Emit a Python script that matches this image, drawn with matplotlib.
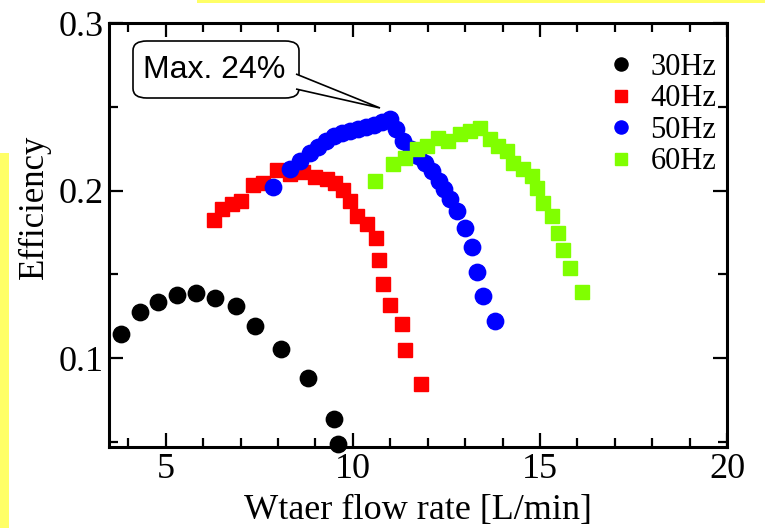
import matplotlib
matplotlib.use("Agg")
import matplotlib.pyplot as plt
from matplotlib.patches import FancyBboxPatch, Polygon, Rectangle
from matplotlib.ticker import MultipleLocator

# ---- data ----
x30 = [3.79, 4.30, 4.79, 5.30, 5.80, 6.31, 6.87, 7.38, 8.09, 8.80, 9.49, 9.61]
y30 = [0.1147, 0.1276, 0.1335, 0.1379, 0.1389, 0.1359, 0.1311, 0.1192, 0.1054, 0.0879, 0.0635, 0.0488]

x40 = [6.28, 6.49, 6.76, 7.02, 7.33, 7.60, 7.96, 8.32, 8.67, 8.98, 9.30, 9.52, 9.74, 9.92,
       10.10, 10.37, 10.61, 10.70, 10.81, 10.99, 11.30, 11.39, 11.81]
y40 = [0.1826, 0.1891, 0.1917, 0.1940, 0.2036, 0.2044, 0.2123, 0.2099, 0.2109, 0.2083, 0.2070,
       0.2044, 0.2004, 0.1940, 0.1851, 0.1798, 0.1718, 0.1587, 0.1444, 0.1315, 0.1206, 0.1048, 0.0845]

x50 = [7.86, 8.32, 8.58, 8.85, 9.06, 9.28, 9.49, 9.71, 9.92, 10.13, 10.35, 10.56, 10.78, 10.99,
       11.15, 11.34, 11.55, 11.74, 11.93, 12.11, 12.30, 12.43, 12.59, 12.78, 12.99, 13.18, 13.32,
       13.48, 13.80]
y50 = [0.2024, 0.2131, 0.2179, 0.2226, 0.2262, 0.2298, 0.2327, 0.2345, 0.2357, 0.2369, 0.2381,
       0.2393, 0.2411, 0.2429, 0.2369, 0.2298, 0.2250, 0.2208, 0.2167, 0.2119, 0.2060, 0.2012,
       0.1952, 0.1881, 0.1774, 0.1661, 0.1512, 0.1369, 0.1220]

x60 = [10.59, 11.07, 11.39, 11.71, 11.98, 12.27, 12.54, 12.86, 13.13, 13.40, 13.66, 13.88, 14.12,
       14.28, 14.55, 14.79, 14.92, 15.08, 15.32, 15.48, 15.61, 15.80, 16.12]
y60 = [0.2060, 0.2161, 0.2196, 0.2250, 0.2268, 0.2315, 0.2298, 0.2339, 0.2357, 0.2375, 0.2310,
       0.2268, 0.2238, 0.2167, 0.2131, 0.2089, 0.2018, 0.1923, 0.1851, 0.1744, 0.1643, 0.1536, 0.1393]

labels = ["30Hz", "40Hz", "50Hz", "60Hz"]
colors = ["#000000", "#ff0000", "#0000ff", "#80ff00"]
markers = ["o", "s", "o", "s"]

xlabel = "Wtaer flow rate [L/min]"
ylabel = "Efficiency"
callout = "Max. 24%"

W, H = 765, 530
fig = plt.figure(figsize=(W / 100, H / 100), dpi=100)
fig.patch.set_facecolor("white")

def fx(px):
    return px / W

def fy(py):
    return 1 - py / H

ax = fig.add_axes([fx(109), fy(447), fx(727) - fx(109), fy(23) - fy(447)])

serif = "Liberation Serif"
series = [(x30, y30), (x40, y40), (x50, y50), (x60, y60)]
for (xs, ys), lab, c, m in zip(series, labels, colors, markers):
    ms = 11.8 if m == "o" else 10.5
    ax.plot(xs, ys, linestyle="none", marker=m, markersize=ms, color=c,
            markeredgecolor=c, markeredgewidth=1.0, label=lab, clip_on=False)

ax.set_xlim(3.48, 20.0)
ax.set_ylim(0.047, 0.3)
ax.xaxis.set_major_locator(MultipleLocator(5))
ax.xaxis.set_minor_locator(MultipleLocator(1))
ax.yaxis.set_major_locator(MultipleLocator(0.1))
ax.yaxis.set_minor_locator(MultipleLocator(0.05))
ax.set_yticks([0.1, 0.2, 0.3])
ax.set_yticklabels(["0.1", "0.2", "0.3"])
ax.set_xticks([5, 10, 15, 20])
ax.set_xticklabels(["5", "10", "15", "20"])

ax.tick_params(which="both", direction="in", top=True, right=True, width=1.6, color="black")
ax.tick_params(which="major", length=10, labelsize=26, pad=4)
ax.tick_params(which="minor", length=6.5)
for lbl in ax.get_xticklabels() + ax.get_yticklabels():
    lbl.set_family(serif)
for s in ax.spines.values():
    s.set_linewidth(2.2)
    s.set_color("black")

fig.text(fx(418), fy(510), xlabel, family=serif, fontsize=26, ha="center", va="center")
fig.text(fx(34), fy(207), ylabel, family=serif, fontsize=25, ha="center", va="center", rotation=90)

leg = ax.legend(loc="upper left", bbox_to_anchor=(fx(606), fy(53)), bbox_transform=fig.transFigure,
                frameon=False, prop={"family": serif, "size": 22}, handlelength=1.0,
                handletextpad=0.45, labelspacing=0.08, borderpad=0, borderaxespad=0,
                markerscale=0.8)

# callout box
box = FancyBboxPatch((fx(133), fy(98)), fx(299) - fx(133), fy(41) - fy(98),
                     boxstyle="round,pad=0,rounding_size=0.018", transform=fig.transFigure,
                     facecolor="white", edgecolor="black", linewidth=1.2, zorder=5)
fig.patches.append(box)
tail = Polygon([(fx(296), fy(74)), (fx(380), fy(108)), (fx(296), fy(89))], closed=False,
               transform=fig.transFigure, facecolor="white", edgecolor="black", linewidth=1.2,
               zorder=6)
fig.patches.append(tail)
fig.text(fx(214), fy(70), callout, family="Liberation Sans", fontsize=23, ha="center",
         va="center", zorder=7)

# yellow slide decorations
fig.patches.append(Rectangle((fx(197), fy(3)), fx(765) - fx(197), fy(0) - fy(3),
                             transform=fig.transFigure, facecolor="#ffff66", edgecolor="none"))
fig.patches.append(Rectangle((fx(0), fy(528)), fx(9), fy(153) - fy(528),
                             transform=fig.transFigure, facecolor="#ffff66", edgecolor="none"))

fig.savefig("out.png", dpi=100)
